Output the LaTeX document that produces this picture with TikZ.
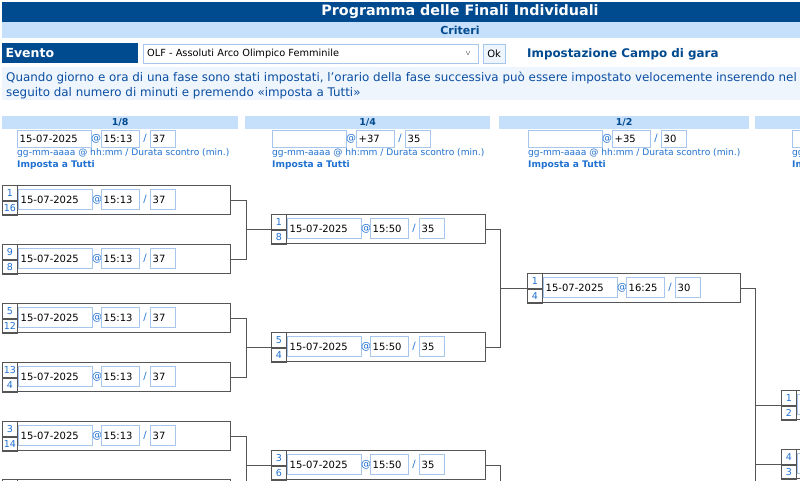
\documentclass[tikz,border=0pt]{standalone}
\usepackage{fontspec}
\setmainfont{DejaVu Sans}
\usetikzlibrary{positioning}
\definecolor{titleblue}{HTML}{004A8F}
\definecolor{barblue}{HTML}{C6DFFA}
\definecolor{linkblue}{HTML}{1F70D0}
\definecolor{infoblue}{HTML}{0B4EA2}
\definecolor{inborder}{HTML}{A6C6EE}
\definecolor{boxgray}{HTML}{555555}
\definecolor{infobg}{HTML}{EEF5FC}
\tikzstyle{inbox} = [draw=inborder, line width=0.8pt, rectangle, anchor=north west, inner sep=0pt]
\tikzstyle{intext} = [anchor=west, inner sep=2.5pt, font=\fontsize{10}{11}\selectfont]
\tikzstyle{sep} = [inner sep=0pt, text=linkblue, font=\fontsize{10}{11}\selectfont]
\tikzstyle{hint} = [anchor=west, inner sep=0pt, text=linkblue, font=\fontsize{9.1}{10}\selectfont]
\tikzstyle{matchbox} = [draw=boxgray, line width=1.3pt, rectangle, anchor=north west, inner sep=0pt, minimum height=29pt]
\tikzstyle{seedbox} = [draw=boxgray, line width=1pt, rectangle, anchor=north west, inner sep=0pt, minimum width=15pt, minimum height=14.5pt, text=linkblue, font=\fontsize{9.5}{10}\selectfont]
\tikzstyle{bar} = [fill=barblue, rectangle, anchor=north west, inner sep=0pt, text=titleblue, font=\bfseries\fontsize{9.5}{10}\selectfont]
\tikzstyle{wire} = [draw=boxgray, line width=1.3pt]
% input field: name, x, y, width, height, text
\newcommand{\infield}[6]{%
\node[inbox, minimum width=#4pt, minimum height=#5pt] (#1) at (#2,#3) {};
\node[intext] at (#1.west) {#6};}
% match: name, x, y, width, seedA, seedB, time, dur
\newcommand{\match}[8]{%
\node[matchbox, minimum width=#4pt] (#1) at (#2,#3) {};
\node[seedbox] (#1-a) at (#2,#3) {#5};
\node[seedbox] (#1-b) at (#1-a.south west) {#6};
\infield{#1-d}{#2+16}{#3+4}{74}{20}{15-07-2025}
\node[sep] at (#2+95,#3+14.5) {@};
\infield{#1-t}{#2+99}{#3+4}{38}{20}{#7}
\node[sep] at (#2+143,#3+14.5) {/};
\infield{#1-r}{#2+148}{#3+4}{25}{20}{#8}}
% phase header: name, bar x, bar width, label, field x, date, time, dur
\newcommand{\phase}[8]{%
\node[bar, minimum width=#3pt, minimum height=13pt] (#1) at (#2,116) {#4};
\infield{#1-d}{#5}{130}{74}{17}{#6}
\node[sep] at (#5+79,138.5) {@};
\infield{#1-t}{#5+84}{130}{38}{17}{#7}
\node[sep] at (#5+128,138.5) {/};
\infield{#1-r}{#5+133}{130}{25}{17}{#8}
\node[hint] at (#5,153) {gg-mm-aaaa @ hh:mm / Durata scontro (min.)};
\node[hint, font=\bfseries\fontsize{9.1}{10}\selectfont] at (#5,165) {Imposta a Tutti};}

\begin{document}
\begin{tikzpicture}[x=1pt, y=-1pt]
\useasboundingbox (0,0) rectangle (800,480);
\clip (0,0) rectangle (800,480);

% page head
\node[fill=titleblue, anchor=north west, minimum width=798pt, minimum height=20pt, inner sep=0pt] (title) at (2,2) {};
\node[text=white, font=\bfseries\fontsize{14.3}{16}\selectfont] at (460,12) {Programma delle Finali Individuali};
\node[bar, minimum width=798pt, minimum height=16pt] (crit) at (2,22) {};
\node[text=titleblue, font=\bfseries\fontsize{11}{12}\selectfont] at (460,30) {Criteri};

% event row
\node[fill=titleblue, anchor=north west, minimum width=136pt, minimum height=20pt, inner sep=0pt] (evento) at (2,43) {};
\node[anchor=west, text=white, font=\bfseries\fontsize{12.5}{14}\selectfont] at (evento.west) {Evento};
\node[draw=inborder, anchor=north west, minimum width=335pt, minimum height=19pt, inner sep=0pt] (sel) at (143,44) {};
\node[intext, inner sep=4pt, font=\fontsize{9.8}{11}\selectfont] at (sel.west) {OLF - Assoluti Arco Olimpico Femminile};
\node[font=\fontsize{7}{8}\selectfont] at (468,54) {$\vee$};
\node[draw=inborder, fill=infobg, anchor=north west, minimum width=22pt, minimum height=19pt, inner sep=0pt, font=\fontsize{10}{11}\selectfont] (ok) at (483,44) {Ok};
\node[anchor=west, inner sep=0pt, text=titleblue, font=\bfseries\fontsize{11.9}{13}\selectfont] at (527,54) {Impostazione Campo di gara};

% info
\node[fill=infobg, anchor=north west, minimum width=798pt, minimum height=33pt, inner sep=0pt] (info) at (2,67) {};
\node[anchor=west, inner sep=0pt, text=infoblue, font=\fontsize{11.9}{13}\selectfont] at (6,78) {Quando giorno e ora di una fase sono stati impostati, l'orario della fase successiva può essere impostato velocemente inserendo nel};
\node[anchor=west, inner sep=0pt, text=infoblue, font=\fontsize{11.9}{13}\selectfont] at (6,93) {seguito dal numero di minuti e premendo «imposta a Tutti»};

% phase headers
\phase{p8}{2}{236}{1/8}{17}{15-07-2025}{15:13}{37}
\phase{p4}{245}{245}{1/4}{272}{}{+37}{35}
\phase{p2}{499}{250}{1/2}{528}{}{+35}{30}
\phase{pf}{755}{60}{}{792}{}{}{}

% 1/8
\match{m1}{2}{185}{228}{1}{16}{15:13}{37}
\match{m2}{2}{244}{228}{9}{8}{15:13}{37}
\match{m3}{2}{303}{228}{5}{12}{15:13}{37}
\match{m4}{2}{362}{228}{13}{4}{15:13}{37}
\match{m5}{2}{421}{228}{3}{14}{15:13}{37}
\match{m6}{2}{479}{228}{}{}{15:13}{37}

% 1/4
\match{q1}{271}{214}{214}{1}{8}{15:50}{35}
\match{q2}{271}{332}{214}{5}{4}{15:50}{35}
\match{q3}{271}{450}{214}{3}{6}{15:50}{35}

% 1/2
\match{s1}{527}{273}{213}{1}{4}{16:25}{30}

% next column
\match{f1}{781}{390}{213}{1}{2}{}{}
\match{f2}{781}{449}{213}{4}{3}{}{}

% connectors
\draw[wire] (m1.east) -- ++(15,0) coordinate (j1) |- (m2.east);
\draw[wire] (j1 |- q1.west) -- (q1.west);
\draw[wire] (m3.east) -- ++(15,0) coordinate (j2) |- (m4.east);
\draw[wire] (j2 |- q2.west) -- (q2.west);
\draw[wire] (m5.east) -- ++(15,0) coordinate (j3) |- (m6.east);
\draw[wire] (j3 |- q3.west) -- (q3.west);
\draw[wire] (q1.east) -- ++(14,0) coordinate (k1) |- (q2.east);
\draw[wire] (k1 |- s1.west) -- (s1.west);
\draw[wire] (q3.east) -- ++(14,0) coordinate (k2) -- ++(0,40);
\draw[wire] (s1.east) -- ++(14,0) coordinate (l1) -- ++(0,220);
\draw[wire] (l1 |- f1.west) -- (f1.west);
\draw[wire] (l1 |- f2.west) -- (f2.west);
\end{tikzpicture}
\end{document}
